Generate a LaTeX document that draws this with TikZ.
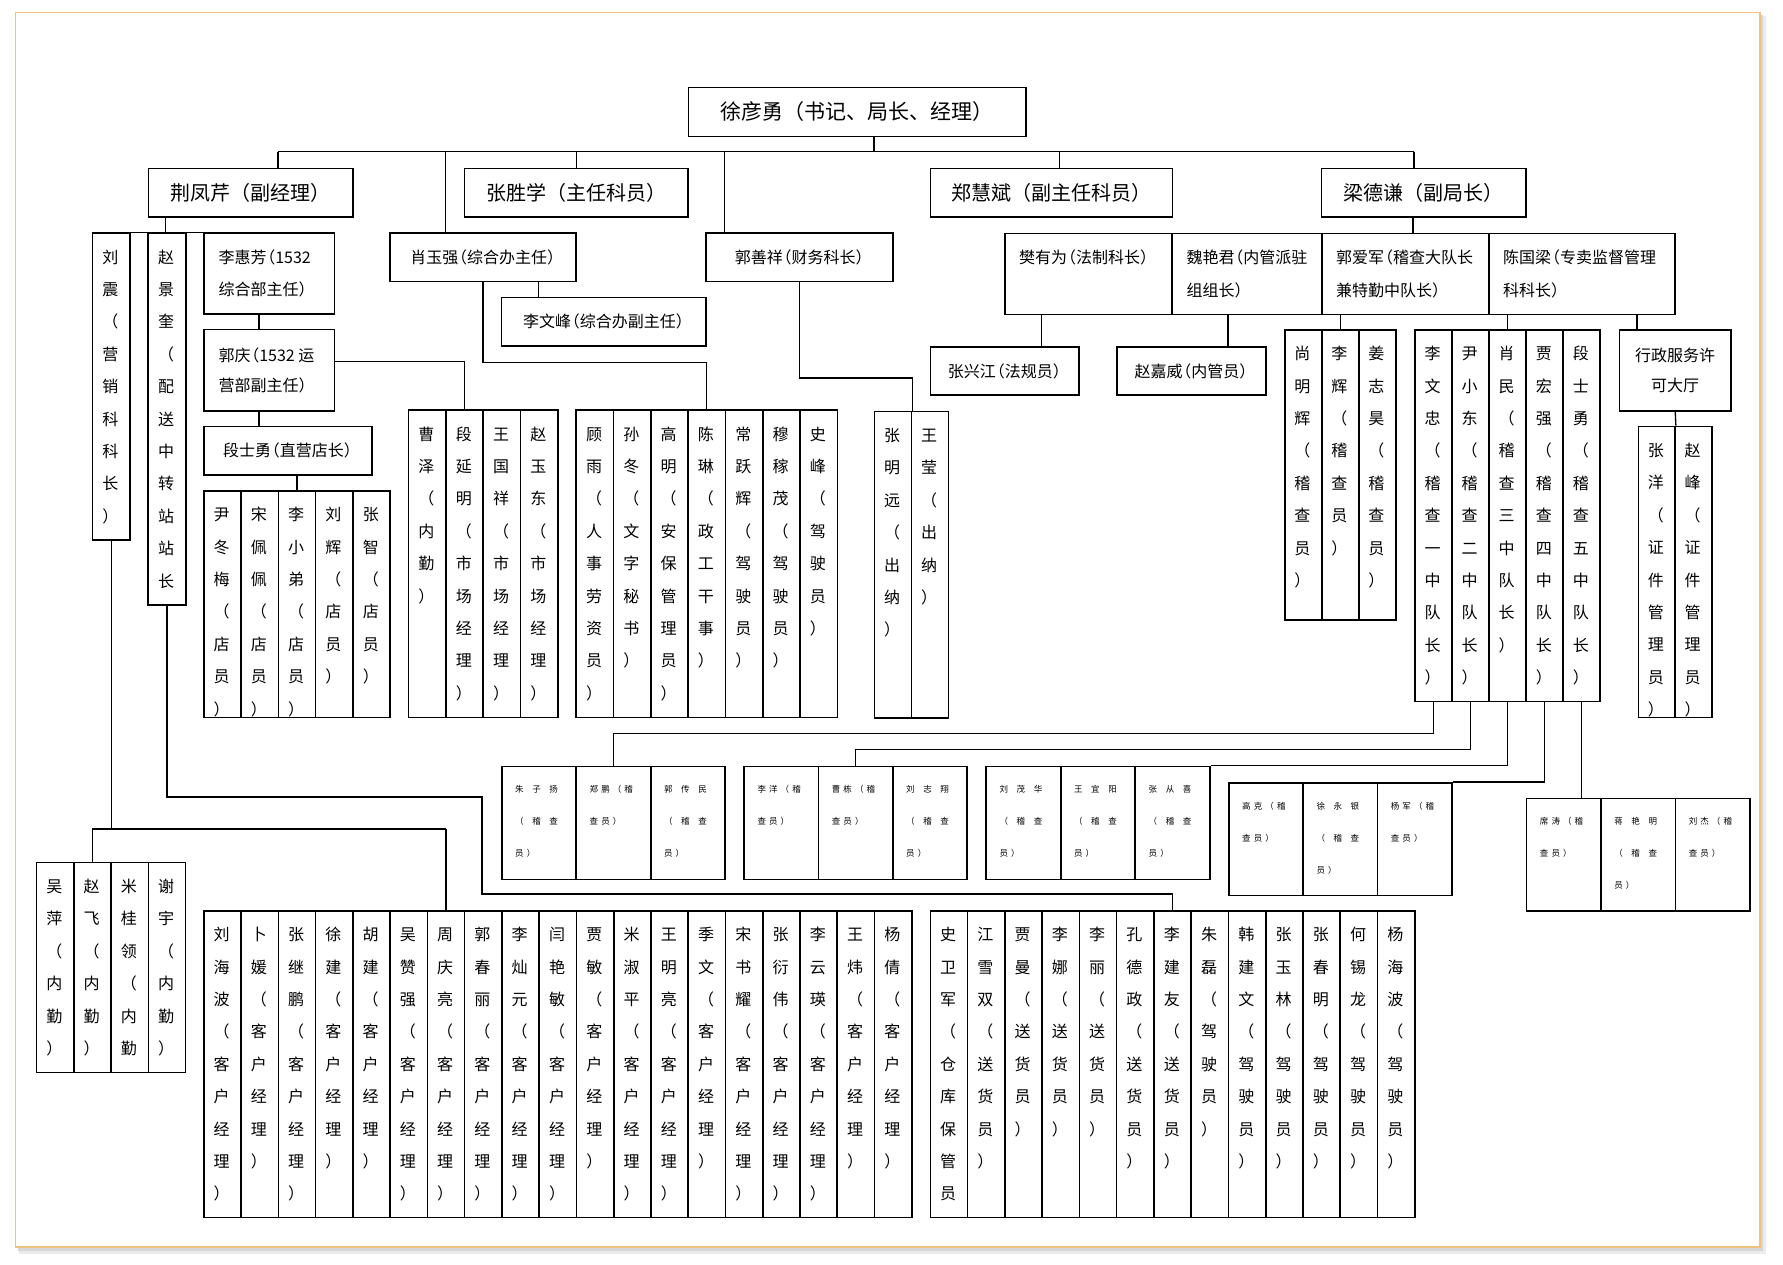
\documentclass[tikz,border=0pt]{standalone}
\usepackage{fontspec}
\setmainfont{Noto Sans CJK SC}
\usetikzlibrary{calc}
\definecolor{framecol}{HTML}{F0C27E}

\newcommand\vtloop[1]{\ifx#1\relax\else\hbox to 0pt{\hss\rule{0pt}{15pt}#1\hss}\expandafter\vtloop\fi}
\newcommand\vt[1]{\vbox{\baselineskip=32.4pt\lineskiplimit=-100pt\lineskip=0pt\vtloop#1\relax}}
\newcommand\lsploop[1]{\ifx#1\relax\else#1\kern\lspk\expandafter\lsploop\fi}
\newcommand\lsp[2]{\def\lspk{#1}\lsploop#2\relax}
\newcommand\W[1]{\lsp{8.6pt}{#1}}
\newcommand\T[1]{\lsp{3.1pt}{#1}}
\newcommand\lp{\hbox to .55em{\hss（}}
\newcommand\rp{\hbox to .55em{）\hss}}

\newcommand\colgrp[7]{%
  \pgfmathsetmacro\cgw{(#3-#2)/#6}%
  \pgfmathsetmacro\cgh{#5-#4}%
  \begin{scope}
    \clip (#2,#4) rectangle (#3,#5);
    \foreach \cn [count=\i] in {#7}{%
      \node[vtext] (#1t\i) at ({#2+(\i-0.5)*\cgw},{#4+15.5}) {\expandafter\vt\expandafter{\cn}};
    }
  \end{scope}
  \foreach \cn [count=\i] in {#7}{%
    \node[colbox,minimum width=\cgw pt,minimum height=\cgh pt] (#1-\i) at ({#2+(\i-1)*\cgw},#4) {};
  }%
}
\newcommand\smgrp[6]{%
  \pgfmathsetmacro\cgw{(#3-#2)/#6}%
  \pgfmathsetmacro\cgh{#5-#4}%
  \foreach \k in {1,...,#6}{%
    \node[colbox,minimum width=\cgw pt,minimum height=\cgh pt] (#1-\k) at ({#2+(\k-1)*\cgw},#4) {};
  }%
}
\newcommand\smw[4]{%
  \node[smtext] (#1a) at ($(#1.north west)+(14,27.2)$) {#2};
  \node[smtext] (#1b) at ($(#1.north west)+(14,59.2)$) {#3};
  \node[smtext] (#1c) at ($(#1.north west)+(14,91.2)$) {#4};}
\newcommand\smt[3]{%
  \node[smtext] (#1a) at ($(#1.north west)+(14,27.2)$) {#2};
  \node[smtext] (#1b) at ($(#1.north west)+(14,59.2)$) {#3};}
\newcommand\bx[7][]{%
  \pgfmathsetmacro\cgw{#5-#3}%
  \pgfmathsetmacro\cgh{#6-#4}%
  \node[box,#1,minimum width=\cgw pt,minimum height=\cgh pt] (#2) at (#3,#4) {#7};}

\begin{document}
\begin{tikzpicture}[x=1pt,y=-1pt,
  box/.style={draw,line width=1.6pt,anchor=north west,inner sep=0pt,font=\fontsize{16}{16}\selectfont},
  colbox/.style={draw,line width=1.6pt,anchor=north west,inner sep=0pt},
  vtext/.style={anchor=north,inner sep=0pt,font=\fontsize{16}{16}\selectfont},
  ltext/.style={anchor=base west,inner sep=0pt,font=\fontsize{16}{16}\selectfont},
  ctext/.style={anchor=base,inner sep=0pt,font=\fontsize{16}{16}\selectfont},
  smtext/.style={anchor=base west,inner sep=0pt,font=\fontsize{8.5}{10}\selectfont},
  conn/.style={line width=1.3pt},
  big/.style={font=\fontsize{21}{21}\selectfont},
  lvtwo/.style={font=\fontsize{20}{20}\selectfont}]

\useasboundingbox (0,0) rectangle (1783,1264);
\fill[white] (0,0) rectangle (1783,1264);
\fill[black!8] (19,16) rectangle (1766,1254);
\fill[black!16] (17.5,14.5) rectangle (1763,1250.5);
\filldraw[fill=white,draw=framecol,line width=1.5pt] (15.5,12.7) rectangle (1760,1247);

% ---------- horizontal boxes ----------
\bx[big]{boss}{687.7}{86.7}{1025}{135.7}{徐彦勇（书记、局长、经理）}
\bx[lvtwo]{jfq}{147.5}{167.7}{352}{216}{荆凤芹（副经理）}
\bx[lvtwo]{zsx}{463.8}{167.7}{687}{216}{张胜学（主任科员）}
\bx[lvtwo]{zhb}{929.5}{167.7}{1171.5}{216}{郑慧斌（副主任科员）}
\bx[lvtwo]{ldq}{1320.6}{167.7}{1525}{216}{梁德谦（副局长）}

\bx{lhf}{203.3}{232.3}{333.7}{313}{}
\node[ltext] (lhfa) at ($(lhf.north west)+(15,31.4)$) {李惠芳\lp 1532};
\node[ltext] (lhfb) at ($(lhf.north west)+(15,63)$) {综合部主任\rp};
\bx{gq}{203.3}{328.7}{333.7}{410}{}
\node[ltext] (gqa) at ($(gq.north west)+(15,32.3)$) {郭庆\lp 1532 运};
\node[ltext] (gqb) at ($(gq.north west)+(15,63)$) {营部副主任\rp};
\bx{dsy}{203.3}{425.7}{371}{474}{段士勇\lp 直营店长\rp}
\bx{xyq}{389.4}{232.3}{575.4}{280.7}{肖玉强\lp 综合办主任\rp}
\bx{lwf}{500.8}{296.7}{705.2}{345}{李文峰\lp 综合办副主任\rp}
\bx{gsx}{705.3}{232.3}{892.4}{280.7}{郭善祥\lp 财务科长\rp}

\bx{fyw}{1004}{232.7}{1171.4}{313.7}{}
\node[ltext] (fywa) at ($(fyw.north west)+(15,31)$) {樊有为\lp 法制科长\rp};
\bx{wyj}{1171.4}{232.7}{1321}{313.7}{}
\node[ltext] (wyja) at ($(wyj.north west)+(15,31)$) {魏艳君\lp 内管派驻};
\node[ltext] (wyjb) at ($(wyj.north west)+(15,63.3)$) {组组长\rp};
\bx{gaj}{1321}{232.7}{1488}{313.7}{}
\node[ltext] (gaja) at ($(gaj.north west)+(15,31)$) {郭爱军\lp 稽查大队长};
\node[ltext] (gajb) at ($(gaj.north west)+(15,63.3)$) {兼特勤中队长\rp};
\bx{cgl}{1488}{232.7}{1674}{313.7}{}
\node[ltext] (cgla) at ($(cgl.north west)+(15,31)$) {陈国梁\lp 专卖监督管理};
\node[ltext] (cglb) at ($(cgl.north west)+(15,63.3)$) {科科长\rp};
\bx{zxj}{929.5}{346}{1078.4}{394.3}{张兴江\lp 法规员\rp}
\bx{zjw}{1116}{346}{1265}{394.3}{赵嘉威\lp 内管员\rp}
\bx{xz}{1618.8}{329}{1730}{410}{}
\node[ctext] (xza) at ($(xz.north)+(0,32)$) {行政服务许};
\node[ctext] (xzb) at ($(xz.north)+(0,62.7)$) {可大厅};

% ---------- vertical column groups ----------
\colgrp{lz}{91.7}{129}{232.3}{539}{1}{刘震（营销科科长）}
\colgrp{zjk}{147.3}{185}{232.3}{604}{1}{赵景奎（配送中转站站长}
\colgrp{clerk}{203}{389.4}{490}{716.7}{5}{尹冬梅（店员）,宋佩佩（店员）,李小弟（店员）,刘辉（店员）,张智（店员）}
\colgrp{cz}{407.8}{557}{409.3}{716.7}{4}{曹泽（内勤）,段延明（市场经理）,王国祥（市场经理）,赵玉东（市场经理）}
\colgrp{gy}{575.4}{836.5}{409.3}{716.7}{7}{顾雨（人事劳资员）,孙冬（文字秘书）,高明（安保管理员）,陈琳（政工干事）,常跃辉（驾驶员）,穆稼茂（驾驶员）,史峰（驾驶员）}
\colgrp{zmy}{873.5}{947.7}{410.7}{717.3}{2}{张明远（出纳）,王莹（出纳）}
\colgrp{smh}{1283.9}{1395}{329}{619.3}{3}{尚明辉（稽查员）,李辉（稽查员）,姜志昊（稽查员）}
\colgrp{lwz}{1414}{1599.4}{329}{700.7}{5}{李文忠（稽查一中队长）,尹小东（稽查二中队长）,肖民（稽查三中队长）,贾宏强（稽查四中队长）,段士勇（稽查五中队长）}
\colgrp{zy}{1637.6}{1711}{425.7}{716.7}{2}{张洋（证件管理员）,赵峰（证件管理员）}
\colgrp{wp}{35.8}{184.8}{861.7}{1071.7}{4}{吴萍（内勤）,赵飞（内勤）,米桂领（内勤）,谢宇（内勤）}
\colgrp{kh}{203}{911}{910}{1216.7}{19}{刘海波（客户经理）,卜媛（客户经理）,张继鹏（客户经理）,徐建（客户经理）,胡建（客户经理）,吴赞强（客户经理）,周庆亮（客户经理）,郭春丽（客户经理）,李灿元（客户经理）,闫艳敏（客户经理）,贾敏（客户经理）,米淑平（客户经理）,王明亮（客户经理）,季文（客户经理）,宋书耀（客户经理）,张衍伟（客户经理）,李云瑛（客户经理）,王炜（客户经理）,杨倩（客户经理）}
\colgrp{sh}{929.5}{1414}{910}{1216.7}{13}{史卫军（仓库保管员,江雪双（送货员）,贾曼（送货员）,李娜（送货员）,李丽（送货员）,孔德政（送货员）,李建友（送货员）,朱磊（驾驶员）,韩建文（驾驶员）,张玉林（驾驶员）,张春明（驾驶员）,何锡龙（驾驶员）,杨海波（驾驶员）}

% ---------- small inspector boxes ----------
\smgrp{s1}{501}{724.4}{765.7}{878.7}{3}
\smgrp{s2}{743.3}{966.4}{765.7}{878.7}{3}
\smgrp{s3}{985.4}{1209}{765.7}{878.7}{3}
\smgrp{s4}{1228}{1451}{782}{894.7}{3}
\smgrp{s5}{1525.7}{1749}{797.7}{910.3}{3}
\smw{s1-1}{\W{朱子扬}}{\W{（稽查}}{\T{员）}}
\smt{s1-2}{\T{郑鹏（稽}}{\T{查员）}}
\smw{s1-3}{\W{郭传民}}{\W{（稽查}}{\T{员）}}
\smt{s2-1}{\T{李洋（稽}}{\T{查员）}}
\smt{s2-2}{\T{曹栋（稽}}{\T{查员）}}
\smw{s2-3}{\W{刘志翔}}{\W{（稽查}}{\T{员）}}
\smw{s3-1}{\W{刘茂华}}{\W{（稽查}}{\T{员）}}
\smw{s3-2}{\W{王宜阳}}{\W{（稽查}}{\T{员）}}
\smw{s3-3}{\W{张从喜}}{\W{（稽查}}{\T{员）}}
\smt{s4-1}{\T{高克（稽}}{\T{查员）}}
\smw{s4-2}{\W{徐永银}}{\W{（稽查}}{\T{员）}}
\smt{s4-3}{\T{杨军（稽}}{\T{查员）}}
\smt{s5-1}{\T{席涛（稽}}{\T{查员）}}
\smw{s5-2}{\W{蒋艳明}}{\W{（稽查}}{\T{员）}}
\smt{s5-3}{\T{刘杰（稽}}{\T{查员）}}

% ---------- connectors ----------
\coordinate (busL) at (278,151.7);
\coordinate (busR) at (1414,151.7);
\draw[conn] (boss.south -| 874,0) -- (874,151.7);
\draw[conn] (busL) -- (busR);
\draw[conn] (busL) -- (jfq.north -| busL);
\draw[conn] (445.4,151.7) -- (xyq.north -| 445.4,0);
\draw[conn] (zsx.north |- busL) -- (zsx.north);
\draw[conn] (724.4,151.7) -- (gsx.north -| 724.4,0);
\draw[conn] (1059.7,151.7) -- (zhb.north -| 1059.7,0);
\draw[conn] (busR) -- (ldq.north -| busR);

\draw[conn] (jfq.south -| 165.7,0) -- (zjk-1.north -| 165.7,0);
\draw[conn] (lz-1.north west) -- (lhf.north east);
\draw[conn] (lhf.south -| 259,0) -- (gq.north -| 259,0);
\draw[conn] (gq.south -| 259,0) -- (dsy.north -| 259,0);
\draw[conn] (dsy.south -| clerk-3.north) -- (clerk-3.north);
\draw[conn] (gq.east |- 0,361.7) -| (cz-2.north);
\draw[conn] (xyq.south -| 538.6,0) -- (lwf.north -| 538.6,0);
\draw[conn] (xyq.south -| 483,0) -- (483,362.3) -| (gy-4.north);
\draw[conn] (gsx.south -| 799.2,0) -- (799.2,378) -| (zmy-1.north east);

\draw[conn] (ldq.south -| 1413,0) -- (gaj.north -| 1413,0);
\draw[conn] (fyw.south -| 1041.3,0) -- (zxj.north -| 1041.3,0);
\draw[conn] (wyj.south -| 1228,0) -- (zjw.north -| 1228,0);
\draw[conn] (gaj.south -| smh-2.north) -- (smh-2.north);
\draw[conn] (cgl.south -| lwz-3.north) -- (lwz-3.north);
\draw[conn] (cgl.south -| 1637,0) -- (xz.north -| 1637,0);
\draw[conn] (xz.south) -- (zy-1.north east);

\coordinate (lzj) at (lz-1.south |- 0,829);
\draw[conn] (lz-1.south) -- (lzj);
\draw[conn] (wp-2.north |- lzj) -- (kh-7.north |- lzj);
\draw[conn] (wp-2.north |- lzj) -- (wp-2.north);
\draw[conn] (kh-7.north |- lzj) -- (kh-7.north);
\draw[conn] (zjk-1.south) -- (zjk-1.south |- 0,797) -- (482,797) -- (482,894) -| (sh-7.north);

\draw[conn] (lwz-1.south) -- (lwz-1.south |- 0,733.3) -| (s1-2.north);
\draw[conn] (lwz-2.south) -- (lwz-2.south |- 0,749.3) -| (s2-2.north);
\draw[conn] (lwz-3.south) |- (s3-3.north east);
\draw[conn] (lwz-4.south) |- (s4-3.north east);
\draw[conn] (lwz-5.south) -- (lwz-5.south |- s5-1.north);
\end{tikzpicture}
\end{document}
